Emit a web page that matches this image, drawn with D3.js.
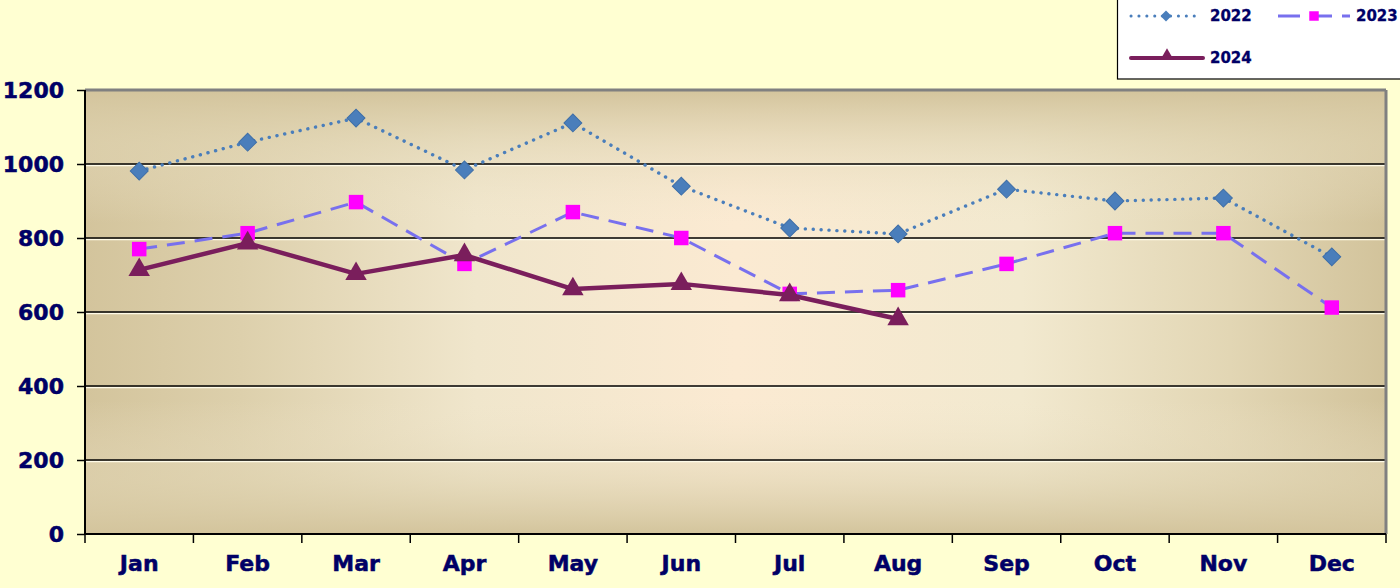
<!DOCTYPE html>
<html><head><meta charset="utf-8">
<script src="https://cdn.jsdelivr.net/npm/d3@7"></script>
<style>
html,body{margin:0;padding:0;background:#ffffd2;}
svg{display:block;}
text{font-family:"DejaVu Sans",Verdana,sans-serif;}
</style></head>
<body>
<svg id="chart" width="1400" height="588"></svg>
<script>
const months = ["Jan","Feb","Mar","Apr","May","Jun","Jul","Aug","Sep","Oct","Nov","Dec"];
const values2022 = [981,1059,1124,984,1111,940,827,811,932,900,908,749];
const values2023 = [770,813,897,730,870,800,649,659,730,813,813,612];
const values2024 = [714,786,703,754,662,676,646,581];
const yTicks = [0,200,400,600,800,1000,1200];
const seriesNames = ["2022","2023","2024"];

const FONT = '"DejaVu Sans", Verdana, sans-serif';
const W = 1400, H = 588;
const m = {left:85, right:14, top:90, bottom:54};
const svg = d3.select("#chart");
const iw = W - m.left - m.right, ih = H - m.top - m.bottom;

const defs = svg.append("defs");
const gh = defs.append("linearGradient").attr("id","gh").attr("x1",0).attr("x2",1).attr("y1",0).attr("y2",0);
[[0,"#d3c49c"],[0.12,"#ddd0ac"],[0.3,"#f0e6cc"],[0.5,"#fbead2"],[0.72,"#f2e9cf"],[0.88,"#e2d6b4"],[1,"#d2c39b"]].forEach(s=>gh.append("stop").attr("offset",s[0]).attr("stop-color",s[1]));
const gv = defs.append("linearGradient").attr("id","gv").attr("x1",0).attr("x2",0).attr("y1",0).attr("y2",1);
[[0,"#d3c49c",1],[0.12,"#e0d4b2",0.6],[0.3,"#efe5cb",0],[0.7,"#efe5cb",0],[0.88,"#e0d4b2",0.6],[1,"#d3c49c",1]].forEach(s=>gv.append("stop").attr("offset",s[0]).attr("stop-color",s[1]).attr("stop-opacity",s[2]));

const g = svg.append("g").attr("transform",`translate(${m.left},${m.top})`);
g.append("rect").attr("width",iw).attr("height",ih).attr("fill","url(#gh)");
g.append("rect").attr("width",iw).attr("height",ih).attr("fill","url(#gv)");

const x = d3.scaleBand().domain(months).range([0,iw]).padding(0);
const y = d3.scaleLinear().domain([0,1200]).range([ih,0]);
const cx = d => x(d) + x.bandwidth()/2;

// gridlines
const inner = yTicks.filter(t=>t>0 && t<1200);
g.append("g").selectAll("line").data(inner).join("line")
  .attr("x1",0).attr("x2",iw).attr("y1",d=>y(d)+1.5).attr("y2",d=>y(d)+1.5)
  .attr("stroke","#fffbe8").attr("stroke-width",1.5);
g.append("g").selectAll("line").data(inner).join("line")
  .attr("x1",0).attr("x2",iw).attr("y1",d=>y(d)).attr("y2",d=>y(d))
  .attr("stroke","#000").attr("stroke-width",1.6);

// plot border (gray top/right)
g.append("line").attr("x1",0).attr("x2",iw).attr("y1",0).attr("y2",0).attr("stroke","#808080").attr("stroke-width",3);
g.append("line").attr("x1",iw).attr("x2",iw).attr("y1",0).attr("y2",ih).attr("stroke","#808080").attr("stroke-width",3);

// axes
const yAxis = g.append("g").call(d3.axisLeft(y).tickValues(yTicks).tickFormat(d3.format("d")).tickSize(8).tickPadding(13));
yAxis.attr("font-family",FONT);
yAxis.select(".domain").attr("stroke","#000").attr("stroke-width",2).attr("d",`M0,0V${ih}`);
yAxis.selectAll(".tick line").attr("stroke","#000").attr("stroke-width",1.5);
yAxis.selectAll("text").attr("font-family",FONT).attr("fill","#000066").attr("font-size","22px").attr("font-weight","bold")
  .attr("dy","0.36em").attr("stroke","#000066").attr("stroke-width",0.5);

const xAxisG = g.append("g").attr("transform",`translate(0,${ih})`);
xAxisG.append("line").attr("x1",0).attr("x2",iw).attr("stroke","#000").attr("stroke-width",2);
xAxisG.selectAll("line.tk").data(d3.range(months.length+1)).join("line").attr("class","tk")
  .attr("x1",i=>i*x.bandwidth()).attr("x2",i=>i*x.bandwidth()).attr("y1",0).attr("y2",9)
  .attr("stroke","#000").attr("stroke-width",1.5);
xAxisG.selectAll("text").data(months).join("text")
  .attr("x",d=>cx(d)).attr("y",37).attr("text-anchor","middle").attr("font-family",FONT)
  .attr("fill","#000066").attr("font-size","22px").attr("font-weight","bold")
  .attr("stroke","#000066").attr("stroke-width",0.5).text(d=>d);

const line = d3.line().x((d,i)=>cx(months[i])).y(d=>y(d));

const c22 = "#4a7ebb", c23 = "#7870ee", c23m = "#ff00ff", c24 = "#7a1e5c";
const square = d3.symbol().type(d3.symbolSquare).size(210);
const tri = d3.symbol().type(d3.symbolTriangle).size(200);

// 2022
g.append("path").datum(values2022).attr("d",line).attr("fill","none")
  .attr("stroke",c22).attr("stroke-width",3.4).attr("stroke-dasharray","0.1 7.8").attr("stroke-linecap","round");
g.append("g").selectAll("path").data(values2022).join("path")
  .attr("transform",(d,i)=>`translate(${cx(months[i])},${y(d)}) rotate(45)`)
  .attr("d",d3.symbol().type(d3.symbolSquare).size(160)).attr("fill",c22).attr("stroke","#3f6fa8").attr("stroke-width",1);

// 2023
g.append("path").datum(values2023).attr("d",line).attr("fill","none")
  .attr("stroke",c23).attr("stroke-width",3).attr("stroke-dasharray","18 10");
g.append("g").selectAll("path").data(values2023).join("path")
  .attr("transform",(d,i)=>`translate(${cx(months[i])},${y(d)})`)
  .attr("d",square).attr("fill",c23m);

// 2024
g.append("path").datum(values2024).attr("d",line).attr("fill","none")
  .attr("stroke",c24).attr("stroke-width",4.5).attr("stroke-linejoin","round");
g.append("g").selectAll("path").data(values2024).join("path")
  .attr("transform",(d,i)=>`translate(${cx(months[i])},${y(d)})`)
  .attr("d",tri).attr("fill",c24);

// legend
const lg = svg.append("g");
lg.append("rect").attr("x",1117.5).attr("y",-2).attr("width",300).attr("height",81)
  .attr("fill","#fff").attr("stroke","#000").attr("stroke-width",1.2);
const legItems = [
  {name:seriesNames[0], x:1131, y:16, tx:1210},
  {name:seriesNames[1], x:1278, y:16, tx:1356},
  {name:seriesNames[2], x:1131, y:58, tx:1210}
];
lg.append("line").attr("x1",legItems[0].x).attr("x2",legItems[0].x+70).attr("y1",16).attr("y2",16)
  .attr("stroke",c22).attr("stroke-width",3).attr("stroke-dasharray","0.1 7.8").attr("stroke-linecap","round");
lg.append("path").attr("transform",`translate(${legItems[0].x+35},16) rotate(45)`).attr("d",d3.symbol().type(d3.symbolSquare).size(60)).attr("fill",c22);
lg.append("line").attr("x1",legItems[1].x).attr("x2",legItems[1].x+72).attr("y1",16).attr("y2",16)
  .attr("stroke",c23).attr("stroke-width",3).attr("stroke-dasharray","22 10");
lg.append("path").attr("transform",`translate(${legItems[1].x+36},16)`).attr("d",d3.symbol().type(d3.symbolSquare).size(90)).attr("fill",c23m);
lg.append("line").attr("x1",legItems[2].x).attr("x2",legItems[2].x+72).attr("y1",58).attr("y2",58)
  .attr("stroke",c24).attr("stroke-width",4).attr("stroke-linecap","round");
lg.append("path").attr("transform",`translate(${legItems[2].x+36},56)`).attr("d",d3.symbol().type(d3.symbolTriangle).size(80)).attr("fill",c24);
lg.selectAll("text").data(legItems).join("text")
  .attr("x",d=>d.tx).attr("y",d=>d.y+5).attr("font-family",FONT)
  .attr("fill","#000066").attr("font-size","15px").attr("font-weight","bold")
  .attr("stroke","#000066").attr("stroke-width",0.3).text(d=>d.name);
</script>
</body></html>
